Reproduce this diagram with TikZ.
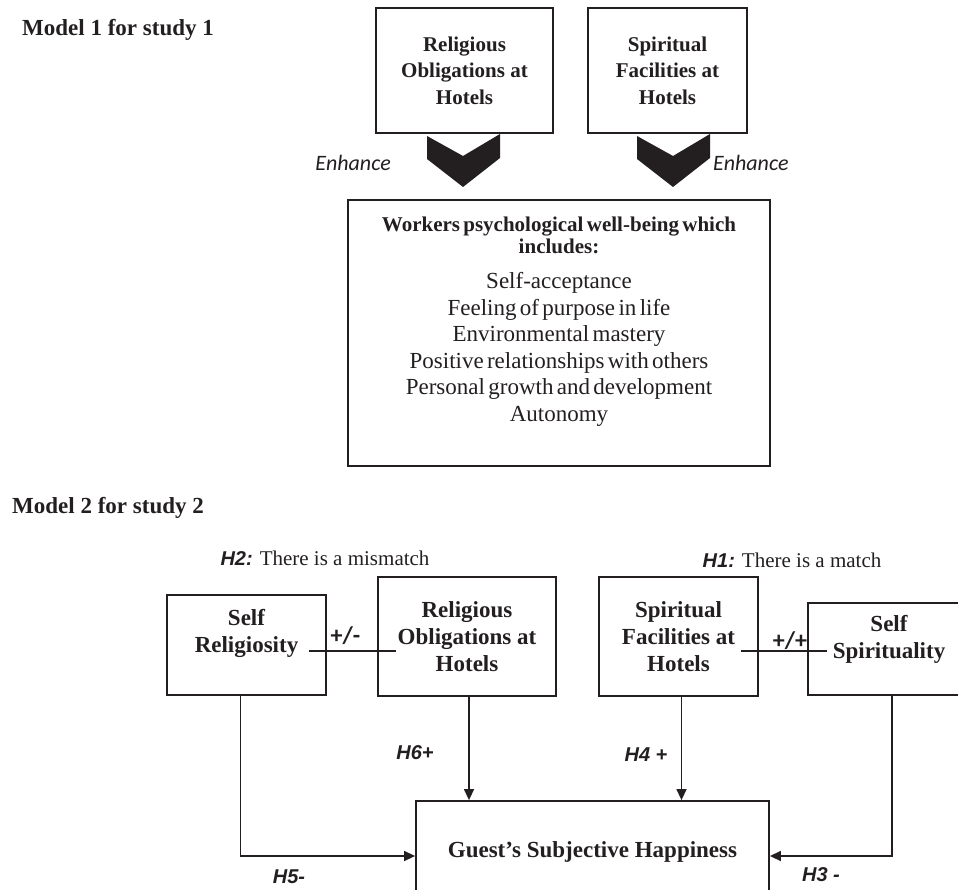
\documentclass[tikz,border=0pt]{standalone}
\usepackage{fontspec}
\setmainfont{Liberation Serif}
\newfontfamily\hsans{Liberation Sans}
\newfontfamily\calib{Carlito}
\usetikzlibrary{arrows.meta,positioning}
\definecolor{inkgrey}{RGB}{35,31,32}
\newcommand{\liftlines}[2]{\raisebox{#1}[\height][\depth]{\begin{tabular}{@{}c@{}}#2\end{tabular}}}

\begin{document}
\begin{tikzpicture}[x=1pt, y=-1pt, color=inkgrey,
      box/.style={draw=inkgrey, line width=1.8pt, align=center, inner sep=0pt, font=\bfseries\fontsize{21}{26.5}\selectfont},
      boxb/.style={box, font=\bfseries\fontsize{23}{27}\selectfont},
      head/.style={anchor=west, inner sep=0pt, font=\bfseries\fontsize{23}{26}\selectfont},
      hyp/.style={inner sep=0pt, font=\hsans\bfseries\itshape\fontsize{20}{24}\selectfont},
      sign/.style={inner sep=0pt, font=\calib\bfseries\fontsize{24}{26}\selectfont},
      enh/.style={inner sep=0pt, font=\calib\itshape\fontsize{22}{24}\selectfont},
      note/.style={inner sep=0pt, font=\fontsize{21}{24}\selectfont},
      link/.style={draw=inkgrey, line width=1.4pt},
      arr/.style={link, -{Triangle[length=11pt, width=10pt]}},
      chev/.pic={\fill[inkgrey] (-36,-24) -- (0,-4) -- (37,-26) -- (37,-2) -- (0,27) -- (-36,-1) -- cycle;}
    ]
      \useasboundingbox (0,0) rectangle (958,890);
      \clip (0,0) rectangle (958,890);

      % Model 1
      \node[head] (m1) at (22,30) {Model 1 for study 1};
      \node[box, minimum width=177, minimum height=125] (ro1) at (464.5,70.5) {Religious\\Obligations at\\Hotels};
      \node[box, minimum width=159, minimum height=125] (sf1) at (667.5,70.5) {Spiritual\\Facilities at\\Hotels};

      \pic at (463,160) {chev};
      \pic at (673,160) {chev};
      \node[enh, anchor=east] (en1) at (391,163) {Enhance};
      \node[enh, anchor=west] (en2) at (713,163) {Enhance};

      \node[box, minimum width=422, minimum height=266] (wb) at (559,333) {};
      \node[anchor=north, align=center, inner sep=0pt, text width=420] (wbtext) at (559,217) {%
        {\bfseries\fontsize{21}{22}\selectfont Workers psychological well-being which\\ includes:\par}
        \vspace{8.5pt}
        {\fontsize{23}{26.5}\selectfont Self-acceptance\\ Feeling of purpose in life\\ Environmental mastery\\
        Positive relationships with others\\ Personal growth and development\\ Autonomy\par}};

      % Model 2
      \node[head] (m2) at (12,508) {Model 2 for study 2};
      \node[note] (h2) at (325,558) {{\hsans\bfseries\itshape\fontsize{20}{24}\selectfont H2:} There is a mismatch};
      \node[note] (h1) at (792,560) {{\hsans\bfseries\itshape\fontsize{20}{24}\selectfont H1:} There is a match};

      \node[boxb, minimum width=159, minimum height=100] (srel) at (246.5,645) {\liftlines{11pt}{Self\\Religiosity}};
      \node[boxb, minimum width=178, minimum height=119] (ro2) at (467,636.5) {Religious\\Obligations at\\Hotels};
      \node[boxb, minimum width=159, minimum height=119] (sf2) at (678.5,636.5) {Spiritual\\Facilities at\\Hotels};
      \node[boxb, minimum width=162, minimum height=92] (sspi) at (889,649) {\liftlines{9pt}{Self\\Spirituality}};
      \node[boxb, minimum width=353, minimum height=110] (guest) at (592.5,856) {\liftlines{4pt}{Guest's Subjective Happiness}};

      \coordinate (rl) at ([shift={(-18,6)}]srel.east);
      \coordinate (rr) at ([shift={(19,14.5)}]ro2.west);
      \draw[link] (rl) -- node[sign, pos=0.42, above=6pt] (pm1) {+/-} (rr);
      \coordinate (sl) at ([shift={(-18,14.5)}]sf2.east);
      \coordinate (sr) at ([shift={(20,2)}]sspi.west);
      \draw[link] (sl) -- node[sign, pos=0.57, above=1pt] (pm2) {+/+} (sr);

      \draw[arr] ([xshift=2]ro2.south) -- ([xshift=2]ro2.south |- guest.north);
      \draw[arr] ([xshift=3]sf2.south) -- ([xshift=3]sf2.south |- guest.north);
      \draw[arr] ([xshift=-6]srel.south) |- (guest.west);
      \draw[arr] ([xshift=3]sspi.south) |- (guest.east);

      \node[hyp] (h6) at (415,753) {H6+};
      \node[hyp] (h4) at (646,755) {H4 +};
      \node[hyp] (h5) at (289,877) {H5-};
      \node[hyp] (h3) at (821,875) {H3 -};
    \end{tikzpicture}
\end{document}
